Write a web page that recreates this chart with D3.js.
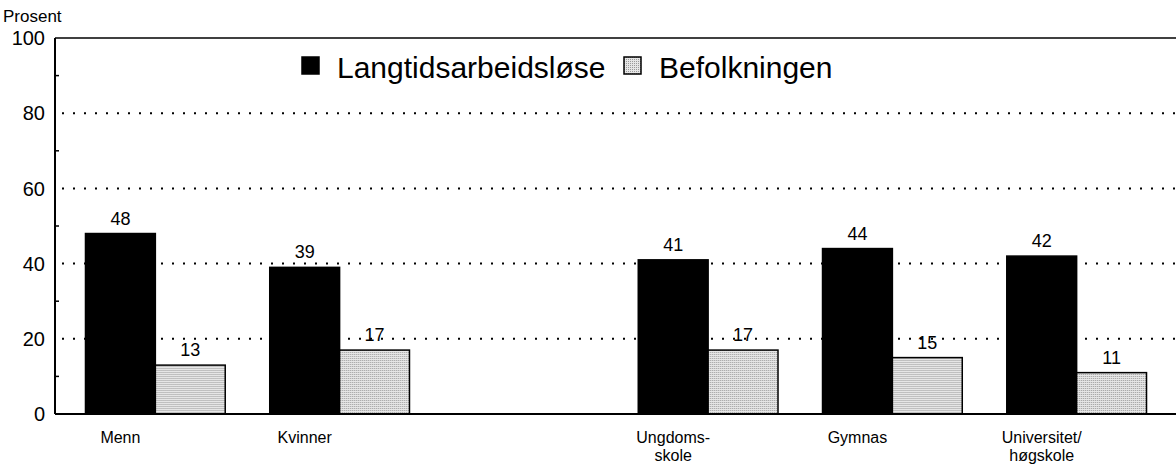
<!DOCTYPE html>
<html>
<head>
<meta charset="utf-8">
<script src="https://cdn.jsdelivr.net/npm/d3@7"></script>
<style>
  body { margin: 0; background: #fff; }
  svg { display: block; font-family: "Liberation Sans", Arial, Helvetica, sans-serif; }
</style>
</head>
<body>
<div id="chart"></div>
<script>
// categories (empty slot keeps the gap between gender and education groups)
const categories = ["Menn", "Kvinner", "", "Ungdoms-skole", "Gymnas", "Universitet/høgskole"];
const categoryLines = [["Menn"], ["Kvinner"], [], ["Ungdoms-", "skole"], ["Gymnas"], ["Universitet/", "høgskole"]];
const langtid = [48, 39, null, 41, 44, 42];
const befolkning = [13, 17, null, 17, 15, 11];
const seriesKeys = ["langtid", "befolkning"];
const seriesNames = ["Langtidsarbeidsløse", "Befolkningen"];
const yTicks = [0, 20, 40, 60, 80, 100];
const yMinor = [10, 30, 50, 70, 90];

const W = 1176, H = 466;
const plotLeft = 55, plotRight = 1176, plotTop = 38, plotBottom = 414;

var svg = d3.select("#chart")
            .append("svg")
            .attr("width", W)
            .attr("height", H);

// stipple fill for the light bars
var pat = svg.append("defs").append("pattern")
             .attr("id", "stipple")
             .attr("width", 2).attr("height", 2)
             .attr("patternUnits", "userSpaceOnUse");
pat.append("rect").attr("width", 2).attr("height", 2).attr("fill", "#e6e6e6");
pat.append("rect").attr("width", 1).attr("height", 1).attr("fill", "#9a9a9a");

var y = d3.scaleLinear().domain([0, 100]).range([plotBottom, plotTop]);
var x0 = d3.scaleBand()
           .domain(d3.range(categories.length))
           .range([plotLeft + 1, plotRight])
           .paddingInner(0.2416)
           .paddingOuter(0.16);
var x1 = d3.scaleBand().domain(seriesKeys).range([0, x0.bandwidth()]);

// dotted gridlines
svg.append("g")
   .selectAll("line")
   .data(yTicks.filter(function(d) { return d > 0 && d < 100; }))
   .join("line")
   .attr("x1", plotLeft + 7)
   .attr("x2", plotRight)
   .attr("y1", function(d) { return y(d); })
   .attr("y2", function(d) { return y(d); })
   .attr("stroke", "#000")
   .attr("stroke-width", 2)
   .attr("stroke-dasharray", "2,9");

// bars
var rows = categories.map(function(c, i) {
  return { i: i, langtid: langtid[i], befolkning: befolkning[i] };
}).filter(function(d) { return d.langtid != null; });

var groups = svg.append("g")
   .selectAll("g")
   .data(rows)
   .join("g")
   .attr("transform", function(d) { return "translate(" + x0(d.i) + ",0)"; });

groups.selectAll("rect")
   .data(function(d) { return seriesKeys.map(function(k) { return { key: k, value: d[k] }; }); })
   .join("rect")
   .attr("x", function(d) { return x1(d.key); })
   .attr("y", function(d) { return y(d.value); })
   .attr("width", x1.bandwidth())
   .attr("height", function(d) { return y(0) - y(d.value); })
   .attr("fill", function(d) { return d.key == "langtid" ? "#000" : "url(#stipple)"; })
   .attr("stroke", "#000")
   .attr("stroke-width", 1.5);

groups.selectAll("text")
   .data(function(d) { return seriesKeys.map(function(k) { return { key: k, value: d[k] }; }); })
   .join("text")
   .attr("x", function(d) { return x1(d.key) + x1.bandwidth() / 2; })
   .attr("y", function(d) { return y(d.value) - 9; })
   .attr("text-anchor", "middle")
   .attr("font-size", 18)
   .text(function(d) { return d.value; });

// axes frame
svg.append("line")
   .attr("x1", plotLeft).attr("x2", plotLeft)
   .attr("y1", y(100)).attr("y2", y(0))
   .attr("stroke", "#000").attr("stroke-width", 2);
svg.append("line")
   .attr("x1", plotLeft).attr("x2", plotRight)
   .attr("y1", y(0)).attr("y2", y(0))
   .attr("stroke", "#000").attr("stroke-width", 2);
svg.append("line")
   .attr("x1", plotLeft).attr("x2", plotRight)
   .attr("y1", y(100)).attr("y2", y(100))
   .attr("stroke", "#000").attr("stroke-width", 1.5);

// minor ticks
svg.append("g")
   .selectAll("line")
   .data(yMinor)
   .join("line")
   .attr("x1", plotLeft).attr("x2", plotLeft + 4)
   .attr("y1", function(d) { return y(d); })
   .attr("y2", function(d) { return y(d); })
   .attr("stroke", "#000").attr("stroke-width", 1.5);

// y tick labels
svg.append("g")
   .selectAll("text")
   .data(yTicks)
   .join("text")
   .attr("x", plotLeft - 10)
   .attr("y", function(d) { return y(d); })
   .attr("dy", "0.36em")
   .attr("text-anchor", "end")
   .attr("font-size", 20)
   .text(function(d) { return d; });

svg.append("text")
   .attr("x", 3).attr("y", 22)
   .attr("font-size", 17)
   .text("Prosent");

// x labels under the dark bars
svg.append("g")
   .selectAll("text")
   .data(categories.map(function(c, i) { return i; }))
   .join("text")
   .attr("x", function(i) { return x0(i) + x1("langtid") + x1.bandwidth() / 2; })
   .attr("y", 443)
   .attr("text-anchor", "middle")
   .attr("font-size", 16)
   .each(function(i) {
     var t = d3.select(this);
     categoryLines[i].forEach(function(line, k) {
       t.append("tspan")
        .attr("x", x0(i) + x1("langtid") + x1.bandwidth() / 2)
        .attr("dy", k == 0 ? 0 : 18)
        .text(line);
     });
   });

// legend
var legendX = [302, 624];
var leg = svg.append("g")
   .selectAll("g")
   .data(seriesKeys)
   .join("g")
   .attr("transform", function(d, i) { return "translate(" + legendX[i] + ",57)"; });
leg.append("rect")
   .attr("width", 17).attr("height", 17)
   .attr("fill", function(d) { return d == "langtid" ? "#000" : "url(#stipple)"; })
   .attr("stroke", "#000").attr("stroke-width", 1.5);
leg.append("text")
   .attr("x", 35).attr("y", 21)
   .attr("font-size", 30)
   .text(function(d, i) { return seriesNames[i]; });
</script>
</body>
</html>
